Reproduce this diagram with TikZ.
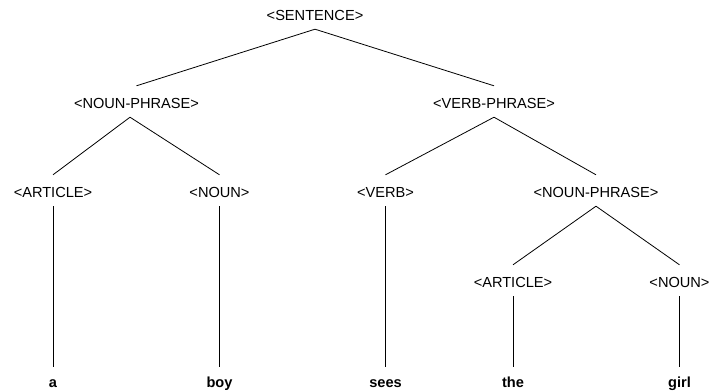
\documentclass[tikz,border=0pt]{standalone}
\usepackage{fontspec}
\setmainfont{Liberation Sans}
\begin{document}
\begin{tikzpicture}[x=1pt,y=-1pt,
  cat/.style={anchor=base,font=\fontsize{14.6}{16}\selectfont,text height=13pt,text depth=0pt,inner xsep=0pt,inner ysep=9pt},
  leaf/.style={anchor=base,font=\fontsize{14.6}{16}\selectfont\bfseries,text height=11pt,text depth=0pt,inner xsep=0pt,inner ysep=9pt},
  edge/.style={draw=black,line width=0.8pt}]
\useasboundingbox (0,0) rectangle (709,391);
\node[cat] (s) at (315,20) {<SENTENCE>};
\node[cat] (np1) at (136.5,108) {<NOUN-PHRASE>};
\node[cat] (vp) at (494,108) {<VERB-PHRASE>};
\node[cat] (art1) at (53,197) {<ARTICLE>};
\node[cat] (n1) at (219.5,197) {<NOUN>};
\node[cat] (v) at (385.5,197) {<VERB>};
\node[cat] (np2) at (596,197) {<NOUN-PHRASE>};
\node[cat] (art2) at (513,287) {<ARTICLE>};
\node[cat] (n2) at (679.5,287) {<NOUN>};
\node[leaf] (a) at (53,387) {a};
\node[leaf] (boy) at (219.5,387) {boy};
\node[leaf] (sees) at (385.5,387) {sees};
\node[leaf] (the) at (513,387) {the};
\node[leaf] (girl) at (679.5,387) {girl};
\draw[edge] (s.south) -- (np1.north);
\draw[edge] (s.south) -- (vp.north);
\draw[edge] ([xshift=-6.5pt]np1.south) -- (art1.north);
\draw[edge] ([xshift=-6.5pt]np1.south) -- (n1.north);
\draw[edge] (vp.south) -- (v.north);
\draw[edge] (vp.south) -- (np2.north);
\draw[edge] (np2.south) -- (art2.north);
\draw[edge] (np2.south) -- (n2.north);
\draw[edge] (art1.south) -- (a.north);
\draw[edge] (n1.south) -- (boy.north);
\draw[edge] (v.south) -- (sees.north);
\draw[edge] (art2.south) -- (the.north);
\draw[edge] (n2.south) -- (girl.north);
\end{tikzpicture}
\end{document}
